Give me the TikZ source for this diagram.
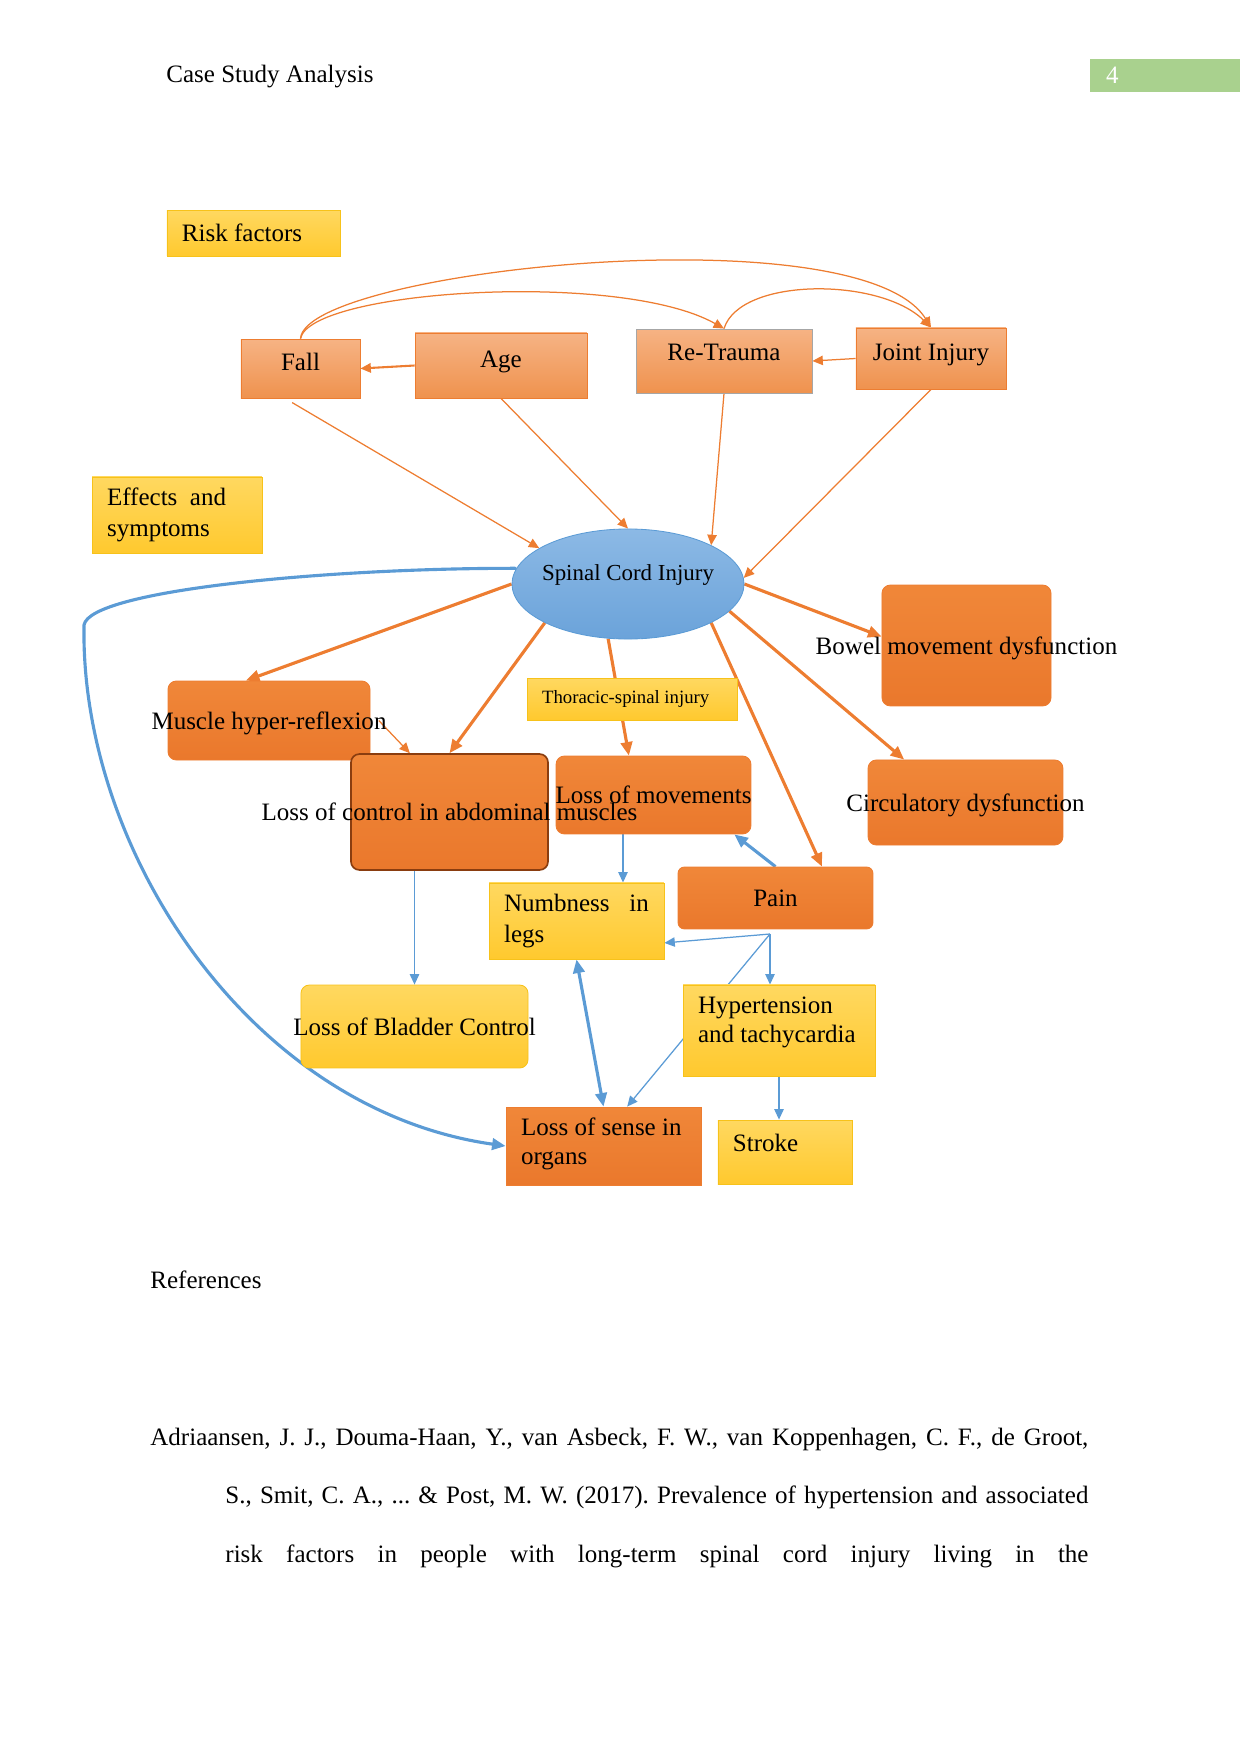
\documentclass[tikz,border=0pt,12pt]{standalone}
\usepackage{fontspec}
\setmainfont{Liberation Serif}
\usepackage{xcolor}
\usetikzlibrary{positioning, arrows.meta, shapes.geometric}
\frenchspacing

\definecolor{riskTop}{HTML}{F6B384}
\definecolor{riskBot}{HTML}{EF924E}
\definecolor{effTop}{HTML}{F08739}
\definecolor{effBot}{HTML}{EA782C}
\definecolor{noteTop}{HTML}{FFD860}
\definecolor{noteBot}{HTML}{FFC92E}
\definecolor{noteBorder}{HTML}{F7C21A}
\definecolor{sciTop}{HTML}{8CB9E5}
\definecolor{sciBot}{HTML}{6BA3DA}
\definecolor{sciBorder}{HTML}{5B9BD5}
\definecolor{lineOrange}{HTML}{ED7D31}
\definecolor{lineBlue}{HTML}{5B9BD5}
\definecolor{ctrlBorder}{HTML}{8A3D0F}
\definecolor{pageGreen}{HTML}{A9D18E}

\pgfdeclarelayer{background}
\pgfsetlayers{background,main}

\begin{document}
\begin{tikzpicture}[x=0.4797pt, y=-0.4797pt,
  riskbox/.style={rectangle, draw=lineOrange, top color=riskTop, bottom color=riskBot, align=center, text height=8.5pt, text depth=7pt},
  effectbox/.style={rectangle, draw=lineOrange, top color=effTop, bottom color=effBot, align=center},
  notebox/.style={rectangle, draw=noteBorder, top color=noteTop, bottom color=noteBot, align=justify, inner xsep=7.2pt},
  riskline/.style={-{Triangle[length=5pt,width=4.5pt]}, draw=lineOrange, line width=0.6pt},
  effectline/.style={-{Triangle[length=6.5pt,width=5.5pt]}, draw=lineOrange, line width=1.5pt},
  blueline/.style={-{Triangle[length=5pt,width=4.5pt]}, draw=lineBlue, line width=0.6pt},
  thickblue/.style={-{Triangle[length=6.5pt,width=5.5pt]}, draw=lineBlue, line width=1.5pt},
  bothblue/.style={{Triangle[length=6.5pt,width=5.5pt]}-{Triangle[length=6.5pt,width=5.5pt]}, draw=lineBlue, line width=1.5pt}]
  \useasboundingbox (0,0) rectangle (1241,1754);

  % page header
  \node[anchor=base west, inner sep=0pt] (title) at (166,83) {Case Study Analysis};
  \node[fill=pageGreen, minimum width=72pt, minimum height=12pt, text width=56.6pt, align=justify, text=white, inner xsep=7.7pt] (pagenum) at (1165,75.5) {4};

  % risk factors
  \node[notebox, minimum width=83pt, minimum height=22pt, text width=68.6pt] (riskhead) at (253.5,233) {Risk factors};
  \node[riskbox, minimum width=57.1pt, minimum height=28.3pt] (fall) at (300.5,368.5) {Fall};
  \node[riskbox, minimum width=82.5pt, minimum height=31.2pt] (age) at (501,365.5) {Age};
  \node[riskbox, draw=black!35, minimum width=84.4pt, minimum height=30.7pt, text depth=9pt] (retrauma) at (724,361) {Re-Trauma};
  \node[riskbox, minimum width=72pt, minimum height=29.3pt] (joint) at (931,358.5) {Joint Injury};

  % effects and symptoms
  \node[notebox, minimum width=81.5pt, minimum height=36.5pt, text width=67.1pt] (effhead) at (177,515) {Effects\ \ and\\symptoms};
  \node[ellipse, draw=sciBorder, top color=sciTop, bottom color=sciBot, minimum width=111.3pt, minimum height=52.8pt, inner sep=0pt, text height=8pt, text depth=11pt, font=\fontsize{11}{13}\selectfont] (sci) at (628,584) {\makebox[0pt]{Spinal Cord Injury}};
  \node[notebox, minimum width=100.7pt, minimum height=20.1pt, text width=86.3pt, font=\fontsize{9}{11}\selectfont] (thoracic) at (632,699) {Thoracic-spinal injury};
  \node[effectbox, rounded corners=4pt, minimum width=96.9pt, minimum height=37.9pt, text height=11.5pt, text depth=2.6pt] (muscle) at (269,720.5) {\makebox[0pt]{Muscle hyper-reflexion}};
  \node[effectbox, rounded corners=4pt, minimum width=93.5pt, minimum height=37.4pt] (move) at (653.5,795) {\makebox[0pt]{Loss of movements}};
  \node[effectbox, rounded corners=4pt, draw=ctrlBorder, line width=0.8pt, minimum width=94.5pt, minimum height=55.6pt] (ctrl) at (449.5,812) {\makebox[0pt]{Loss of control in abdominal muscles}};
  \node[effectbox, rounded corners=4pt, minimum width=81.1pt, minimum height=58pt, text height=11.5pt, text depth=2.6pt] (bowel) at (966.5,645.5) {\makebox[0pt]{Bowel movement dysfunction}};
  \node[effectbox, rounded corners=4pt, minimum width=93.5pt, minimum height=40.8pt, text height=11.5pt, text depth=2.6pt] (circ) at (965.5,802.5) {\makebox[0pt]{Circulatory dysfunction}};
  \node[effectbox, rounded corners=3pt, minimum width=93.5pt, minimum height=29.7pt] (pain) at (775.5,898) {Pain};
  \node[notebox, minimum width=83.9pt, minimum height=36.5pt, text width=69.5pt] (numb) at (576.5,921) {Numbness\hfill in\\legs};
  \node[notebox, rounded corners=4pt, align=center, minimum width=108.9pt, minimum height=39.8pt] (bladder) at (414.5,1026.5) {\makebox[0pt]{Loss of Bladder Control}};
  \node[notebox, minimum width=92.1pt, minimum height=43.7pt, text width=77.7pt, text depth=24pt, font=\fontsize{12}{13.8}\selectfont] (hyper) at (779,1030.5) {Hypertension\\and tachycardia};
  \node[effectbox, align=justify, inner xsep=7.2pt, minimum width=93.5pt, minimum height=37.4pt, text width=79.1pt, text depth=18.5pt, font=\fontsize{12}{13.8}\selectfont] (sense) at (603.5,1146) {Loss of sense in\\organs};
  \node[notebox, minimum width=64.3pt, minimum height=30.7pt, text width=49.9pt, text height=8.3pt, text depth=8.6pt] (stroke) at (785,1152) {Stroke};

  \begin{pgfonlayer}{background}
    % risk factor links
    \draw[riskline, line width=1pt] (age.west) -- (fall.east);
    \draw[riskline] (joint.west) -- (retrauma.east);
    \draw[riskline] (fall.north) .. controls (305,270) and (860,212) .. (joint.north);
    \draw[riskline] (fall.north) .. controls (310,290) and (620,270) .. (retrauma.north);
    \draw[riskline] (retrauma.north) .. controls (740,277) and (880,277) .. (joint.north);
    \draw[riskline] ([xshift=-4pt,yshift=-2pt]fall.south) -- (sci.158);
    \draw[riskline] (age.south) -- (sci.north);
    \draw[riskline] (retrauma.south) -- (sci.25);
    \draw[riskline] (joint.south) -- (sci.3);

    % effects of the injury
    \draw[effectline] (sci.west) -- (muscle.120);
    \draw[effectline] (sci.205) -- (ctrl.north);
    \draw[effectline] (sci.250) -- (move.122);
    \draw[effectline] (sci.335) -- (pain.34);
    \draw[effectline] (sci.345) -- (circ.145);
    \draw[effectline] (sci.east) -- (bowel.174);
    \draw[riskline] ([xshift=4pt]muscle.east) -- (ctrl.124);

    % symptoms
    \draw[thickblue] (sci.172) .. controls (330,568) and (90,590) .. (84,625) .. controls (80,850) and (250,1110) .. (sense.west);
    \draw[blueline] (bladder.north |- ctrl.south) -- (bladder.north);
    \draw[blueline] ([xshift=22.3pt]numb.north |- move.south) -- ([xshift=22.3pt]numb.north);
    \draw[thickblue] (pain.north) -- (move.334);
    \coordinate (hub) at (770,934);
    \draw[blueline] (hub) -- (numb.346);
    \draw[blueline] (hub) -- (hub |- hyper.north);
    \draw[blueline] (hub) -- (sense.59);
    \draw[bothblue] (numb.south) -- (sense.north);
    \draw[blueline] (hyper.south) -- (hyper.south |- stroke.north);
  \end{pgfonlayer}

  % references
  \node[anchor=base west, inner sep=0pt] (refhead) at (150,1288) {References};
  \node[anchor=north west, inner sep=0pt, text width=450pt, align=justify, font=\fontsize{12}{27.9}\selectfont] (refentry) at (150,1428)
    {\makebox[450pt][s]{Adriaansen, J. J., Douma-Haan, Y., van Asbeck, F. W., van Koppenhagen, C. F., de Groot,}\\
     \hspace*{36pt}\makebox[414pt][s]{S., Smit, C. A., ... \& Post, M. W. (2017). Prevalence of hypertension and associated}\\
     \hspace*{36pt}\makebox[414pt][s]{risk factors in people with long-term spinal cord injury living in the}};
\end{tikzpicture}
\end{document}
